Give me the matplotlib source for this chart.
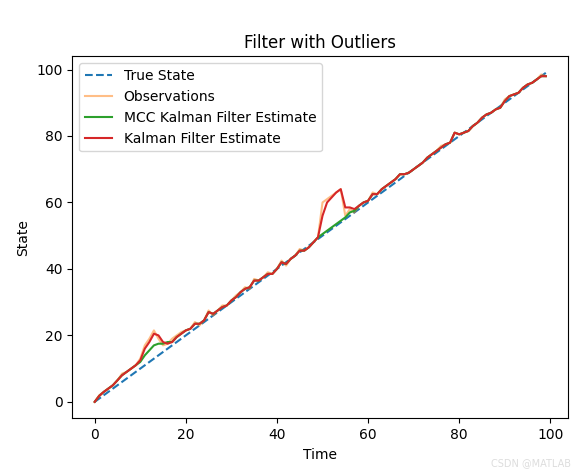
import numpy as np
import matplotlib.pyplot as plt

time = np.arange(100)
true_state = np.arange(100) * 1.0

observations = [0, 2, 3, 4, 5, 6.5, 8.5, 9, 10, 11,
                13, 17, 19, 21.5, 19, 17, 17.5, 19, 20, 21,
                21.5, 22, 24, 23, 24.5, 27.5, 26, 27.5, 29, 29,
                30.5, 32, 33, 34.5, 34, 37, 36.5, 37.5, 39, 38.5,
                40, 42.5, 41, 43, 44, 46, 45.5, 46.5, 48, 49.5,
                60, 61, 62, 63, 64, 56, 58, 57, 59, 60,
                60.5, 63, 62.5, 64, 65, 66, 67, 68.5, 68.5, 69,
                70, 71, 72, 73.5, 74.5, 75.5, 77, 77.5, 78, 81,
                80.5, 81, 81.5, 83, 84, 85.5, 86.5, 87, 88, 88.5,
                91, 92, 92.5, 93, 94.5, 95.5, 96, 97, 98.5, 98]

kf_est = [0, 1.8, 3, 4, 5, 6.5, 8, 9, 10, 11,
          12.5, 16, 18, 20.5, 20, 18, 17.5, 18, 19.5, 20.5,
          21.5, 22, 23.5, 23.5, 24.5, 27, 26.5, 27.5, 28.5, 29,
          30.5, 31.5, 33, 34, 34.5, 36.5, 36.5, 37.5, 38.5, 38.5,
          40, 42, 41.5, 43, 44, 45.5, 45.5, 46.5, 48, 49.5,
          56, 60, 61.5, 63, 64, 58.5, 58.5, 58, 59, 60,
          60.5, 62.5, 62.5, 64, 65, 66, 67, 68.5, 68.5, 69,
          70, 71, 72, 73.5, 74.5, 75.5, 76.5, 77.5, 78, 81,
          80.5, 81, 81.5, 83, 84, 85.5, 86.5, 87, 88, 88.5,
          90.5, 92, 92.5, 93, 94.5, 95.5, 96, 97, 98, 98]

mcc_est = list(kf_est)
mcc_est[10:17] = [12, 14, 15.5, 17, 17.5, 17.5, 18]
mcc_est[50:58] = [50.5, 51.5, 52.5, 53.5, 54.5, 55.5, 57, 57.5]

fig, ax = plt.subplots(figsize=(5.77, 4.7), dpi=100)
ax.plot(time, true_state, '--', color='#1f77b4', label='True State')
ax.plot(time, observations, color='#ff7f0e', alpha=0.5, label='Observations')
ax.plot(time, mcc_est, color='#2ca02c', label='MCC Kalman Filter Estimate')
ax.plot(time, kf_est, color='#d62728', label='Kalman Filter Estimate')
ax.set_title('Filter with Outliers')
ax.set_xlabel('Time')
ax.set_ylabel('State')
ax.legend(loc='upper left')
fig.subplots_adjust(left=0.125, right=0.985, top=0.88, bottom=0.11)
fig.text(0.99, 0.005, 'CSDN @MATLAB', ha='right', va='bottom', fontsize=7, color='#dddddd')
fig.savefig('out.png')
